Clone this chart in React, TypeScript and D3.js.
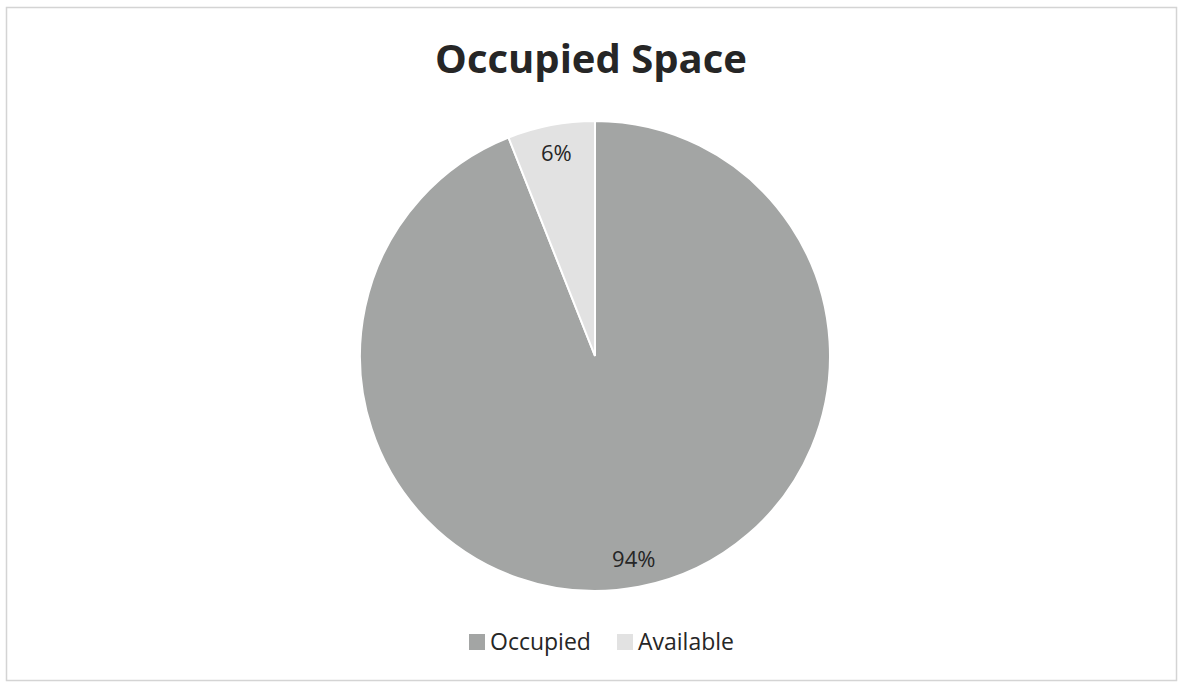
import React from "react";
import * as d3 from "d3";

const categories = ["Occupied", "Available"];
const values = [94, 6];
const colors = ["#a3a5a4", "#e2e2e2"];
const title = "Occupied Space";

const W = 1180;
const H = 682;

export default function App() {
  const cx = 595;
  const cy = 356;
  const r = 235;

  const pie = d3
    .pie<number>()
    .sort(null)
    .value((d) => d);
  const arcs = pie(values);
  const arc = d3.arc<d3.PieArcDatum<number>>().innerRadius(0).outerRadius(r);
  const labelArc = d3
    .arc<d3.PieArcDatum<number>>()
    .innerRadius(r * 0.88)
    .outerRadius(r * 0.88);
  const total = d3.sum(values);

  // legend layout
  const legendX = [469, 617];

  return (
    <svg
      width={W}
      height={H}
      style={{ position: "absolute", left: 0, top: 0, background: "#fff" }}
    >
      <rect x={6.5} y={7.5} width={1170} height={673} fill="#fff" stroke="#d4d4d4" strokeWidth={1.5} />
      <text
        x={591}
        y={73}
        textAnchor="middle"
        fontFamily="'Open Sans', sans-serif"
        fontWeight="bold"
        fontSize={40}
        fill="#262626"
      >
        {title}
      </text>
      <g transform={`translate(${cx},${cy})`}>
        {arcs.map((a, i) => (
          <path key={i} d={arc(a) || ""} fill={colors[i]} stroke="#fff" strokeWidth={2} />
        ))}
        {arcs.map((a, i) => {
          const [x, y] = labelArc.centroid(a);
          return (
            <text
              key={i}
              x={x}
              y={y}
              dy="0.35em"
              textAnchor="middle"
              fontFamily="'Open Sans', sans-serif"
              fontSize={22}
              fill="#262626"
            >
              {Math.round((a.value / total) * 100) + "%"}
            </text>
          );
        })}
      </g>
      <g>
        {categories.map((c, i) => (
          <g key={c} transform={`translate(${legendX[i]},642)`}>
            <rect x={0} y={-8} width={16} height={16} fill={colors[i]} />
            <text
              x={21}
              y={0}
              dy="0.35em"
              fontFamily="'Open Sans', sans-serif"
              fontSize={23}
              fill="#262626"
            >
              {c}
            </text>
          </g>
        ))}
      </g>
    </svg>
  );
}
